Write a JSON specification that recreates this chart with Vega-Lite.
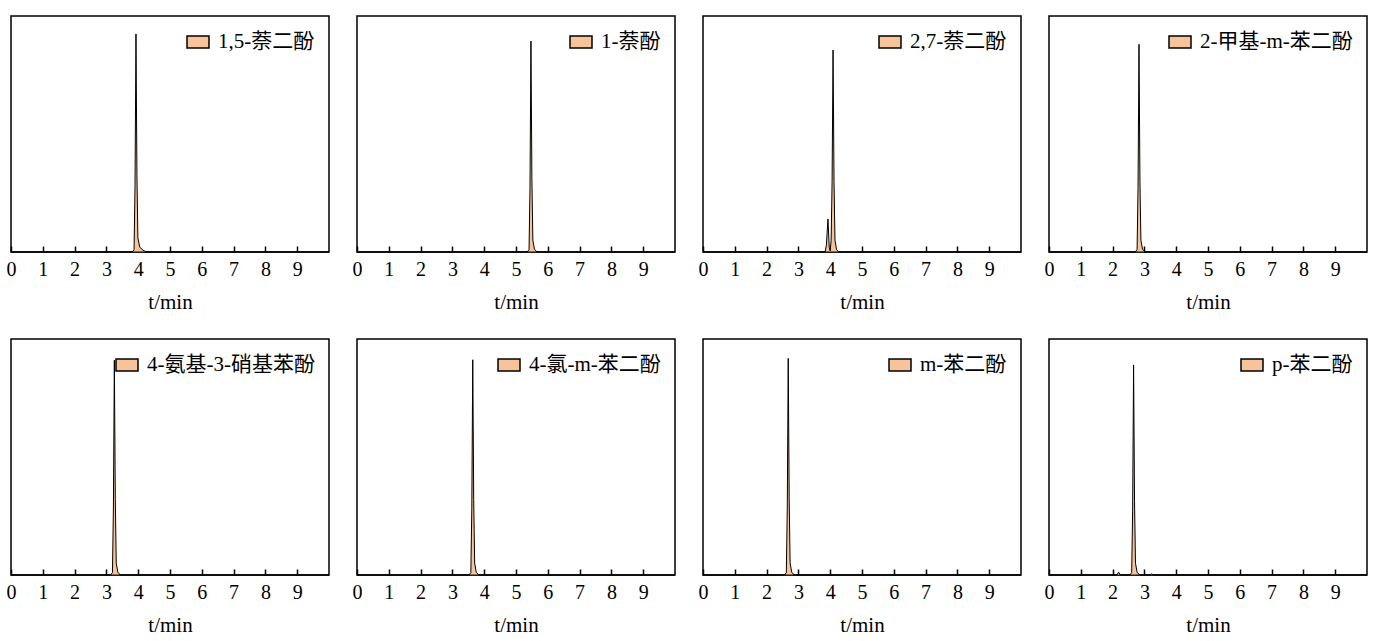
{
  "$schema": "https://vega.github.io/schema/vega-lite/v6.json",
  "background": "white",
  "padding": {"left": 5, "top": 15, "right": 5, "bottom": 5},
  "data": {"values": [
    {"name": "1,5-萘二酚", "t": 0, "v": 0},
    {"name": "1,5-萘二酚", "t": 3.81, "v": 0},
    {"name": "1,5-萘二酚", "t": 3.87, "v": 0.01},
    {"name": "1,5-萘二酚", "t": 3.9, "v": 0.28},
    {"name": "1,5-萘二酚", "t": 3.93, "v": 0.924},
    {"name": "1,5-萘二酚", "t": 3.96, "v": 0.33},
    {"name": "1,5-萘二酚", "t": 3.99, "v": 0.06},
    {"name": "1,5-萘二酚", "t": 4.05, "v": 0.02},
    {"name": "1,5-萘二酚", "t": 4.15, "v": 0.008},
    {"name": "1,5-萘二酚", "t": 4.25, "v": 0},
    {"name": "1,5-萘二酚", "t": 10, "v": 0},

    {"name": "1-萘酚", "t": 0, "v": 0},
    {"name": "1-萘酚", "t": 5.35, "v": 0},
    {"name": "1-萘酚", "t": 5.41, "v": 0.01},
    {"name": "1-萘酚", "t": 5.44, "v": 0.27},
    {"name": "1-萘酚", "t": 5.47, "v": 0.894},
    {"name": "1-萘酚", "t": 5.5, "v": 0.31},
    {"name": "1-萘酚", "t": 5.53, "v": 0.05},
    {"name": "1-萘酚", "t": 5.58, "v": 0.012},
    {"name": "1-萘酚", "t": 5.66, "v": 0},
    {"name": "1-萘酚", "t": 10, "v": 0},

    {"name": "2,7-萘二酚", "t": 0, "v": 0},
    {"name": "2,7-萘二酚", "t": 3.84, "v": 0},
    {"name": "2,7-萘二酚", "t": 3.88, "v": 0.03},
    {"name": "2,7-萘二酚", "t": 3.93, "v": 0.14},
    {"name": "2,7-萘二酚", "t": 3.97, "v": 0.02},
    {"name": "2,7-萘二酚", "t": 4.0, "v": 0.005},
    {"name": "2,7-萘二酚", "t": 4.03, "v": 0.05},
    {"name": "2,7-萘二酚", "t": 4.06, "v": 0.3},
    {"name": "2,7-萘二酚", "t": 4.09, "v": 0.856},
    {"name": "2,7-萘二酚", "t": 4.12, "v": 0.3},
    {"name": "2,7-萘二酚", "t": 4.15, "v": 0.05},
    {"name": "2,7-萘二酚", "t": 4.2, "v": 0.01},
    {"name": "2,7-萘二酚", "t": 4.28, "v": 0},
    {"name": "2,7-萘二酚", "t": 10, "v": 0},

    {"name": "2-甲基-m-苯二酚", "t": 0, "v": 0},
    {"name": "2-甲基-m-苯二酚", "t": 2.71, "v": 0},
    {"name": "2-甲基-m-苯二酚", "t": 2.77, "v": 0.01},
    {"name": "2-甲基-m-苯二酚", "t": 2.8, "v": 0.27},
    {"name": "2-甲基-m-苯二酚", "t": 2.83, "v": 0.88},
    {"name": "2-甲基-m-苯二酚", "t": 2.86, "v": 0.3},
    {"name": "2-甲基-m-苯二酚", "t": 2.89, "v": 0.05},
    {"name": "2-甲基-m-苯二酚", "t": 2.94, "v": 0.012},
    {"name": "2-甲基-m-苯二酚", "t": 3.02, "v": 0},
    {"name": "2-甲基-m-苯二酚", "t": 10, "v": 0},

    {"name": "4-氨基-3-硝基苯酚", "t": 0, "v": 0},
    {"name": "4-氨基-3-硝基苯酚", "t": 3.13, "v": 0},
    {"name": "4-氨基-3-硝基苯酚", "t": 3.19, "v": 0.01},
    {"name": "4-氨基-3-硝基苯酚", "t": 3.22, "v": 0.28},
    {"name": "4-氨基-3-硝基苯酚", "t": 3.25, "v": 0.91},
    {"name": "4-氨基-3-硝基苯酚", "t": 3.28, "v": 0.32},
    {"name": "4-氨基-3-硝基苯酚", "t": 3.31, "v": 0.05},
    {"name": "4-氨基-3-硝基苯酚", "t": 3.36, "v": 0.012},
    {"name": "4-氨基-3-硝基苯酚", "t": 3.44, "v": 0},
    {"name": "4-氨基-3-硝基苯酚", "t": 10, "v": 0},

    {"name": "4-氯-m-苯二酚", "t": 0, "v": 0},
    {"name": "4-氯-m-苯二酚", "t": 3.52, "v": 0},
    {"name": "4-氯-m-苯二酚", "t": 3.58, "v": 0.01},
    {"name": "4-氯-m-苯二酚", "t": 3.61, "v": 0.28},
    {"name": "4-氯-m-苯二酚", "t": 3.64, "v": 0.912},
    {"name": "4-氯-m-苯二酚", "t": 3.67, "v": 0.32},
    {"name": "4-氯-m-苯二酚", "t": 3.7, "v": 0.05},
    {"name": "4-氯-m-苯二酚", "t": 3.75, "v": 0.012},
    {"name": "4-氯-m-苯二酚", "t": 3.83, "v": 0},
    {"name": "4-氯-m-苯二酚", "t": 10, "v": 0},

    {"name": "m-苯二酚", "t": 0, "v": 0},
    {"name": "m-苯二酚", "t": 2.56, "v": 0},
    {"name": "m-苯二酚", "t": 2.62, "v": 0.01},
    {"name": "m-苯二酚", "t": 2.65, "v": 0.28},
    {"name": "m-苯二酚", "t": 2.68, "v": 0.918},
    {"name": "m-苯二酚", "t": 2.71, "v": 0.32},
    {"name": "m-苯二酚", "t": 2.74, "v": 0.05},
    {"name": "m-苯二酚", "t": 2.79, "v": 0.012},
    {"name": "m-苯二酚", "t": 2.87, "v": 0},
    {"name": "m-苯二酚", "t": 10, "v": 0},

    {"name": "p-苯二酚", "t": 0, "v": 0},
    {"name": "p-苯二酚", "t": 2.13, "v": 0},
    {"name": "p-苯二酚", "t": 2.19, "v": 0.012},
    {"name": "p-苯二酚", "t": 2.25, "v": 0},
    {"name": "p-苯二酚", "t": 2.54, "v": 0},
    {"name": "p-苯二酚", "t": 2.6, "v": 0.01},
    {"name": "p-苯二酚", "t": 2.63, "v": 0.27},
    {"name": "p-苯二酚", "t": 2.66, "v": 0.89},
    {"name": "p-苯二酚", "t": 2.69, "v": 0.31},
    {"name": "p-苯二酚", "t": 2.72, "v": 0.05},
    {"name": "p-苯二酚", "t": 2.77, "v": 0.012},
    {"name": "p-苯二酚", "t": 2.85, "v": 0},
    {"name": "p-苯二酚", "t": 3.18, "v": 0},
    {"name": "p-苯二酚", "t": 3.23, "v": 0.005},
    {"name": "p-苯二酚", "t": 3.28, "v": 0},
    {"name": "p-苯二酚", "t": 10, "v": 0}
  ]},
  "columns": 4,
  "spacing": {"column": 19, "row": 25},
  "resolve": {"scale": {"fill": "independent"}, "legend": {"fill": "independent"}},
  "concat": [
    {"width": 318, "height": 236, "transform": [{"filter": "datum.name === '1,5-萘二酚'"}],
     "mark": {"type": "area", "stroke": "black", "strokeWidth": 1, "interpolate": "linear"},
     "encoding": {
       "x": {"field": "t", "type": "quantitative", "scale": {"domain": [0, 10]}, "axis": {"values": [0,1,2,3,4,5,6,7,8,9], "title": "t/min", "grid": false, "domain": false, "offset": -6, "tickSize": 6, "tickWidth": 1.5, "tickColor": "black", "labelFlush": false, "labelFont": "Liberation Serif", "labelFontSize": 20, "labelColor": "black", "labelPadding": 7, "titleFont": "Liberation Serif", "titleFontSize": 21, "titleFontWeight": "normal", "titleColor": "black", "titlePadding": 12}},
       "y": {"field": "v", "type": "quantitative", "scale": {"domain": [0, 1]}, "axis": null},
       "fill": {"field": "name", "type": "nominal", "scale": {"range": ["#F7C39B"]}, "legend": {"title": null}}}},
    {"width": 318, "height": 236, "transform": [{"filter": "datum.name === '1-萘酚'"}],
     "mark": {"type": "area", "stroke": "black", "strokeWidth": 1, "interpolate": "linear"},
     "encoding": {
       "x": {"field": "t", "type": "quantitative", "scale": {"domain": [0, 10]}, "axis": {"values": [0,1,2,3,4,5,6,7,8,9], "title": "t/min", "grid": false, "domain": false, "offset": -6, "tickSize": 6, "tickWidth": 1.5, "tickColor": "black", "labelFlush": false, "labelFont": "Liberation Serif", "labelFontSize": 20, "labelColor": "black", "labelPadding": 7, "titleFont": "Liberation Serif", "titleFontSize": 21, "titleFontWeight": "normal", "titleColor": "black", "titlePadding": 12}},
       "y": {"field": "v", "type": "quantitative", "scale": {"domain": [0, 1]}, "axis": null},
       "fill": {"field": "name", "type": "nominal", "scale": {"range": ["#F7C39B"]}, "legend": {"title": null}}}},
    {"width": 318, "height": 236, "transform": [{"filter": "datum.name === '2,7-萘二酚'"}],
     "mark": {"type": "area", "stroke": "black", "strokeWidth": 1, "interpolate": "linear"},
     "encoding": {
       "x": {"field": "t", "type": "quantitative", "scale": {"domain": [0, 10]}, "axis": {"values": [0,1,2,3,4,5,6,7,8,9], "title": "t/min", "grid": false, "domain": false, "offset": -6, "tickSize": 6, "tickWidth": 1.5, "tickColor": "black", "labelFlush": false, "labelFont": "Liberation Serif", "labelFontSize": 20, "labelColor": "black", "labelPadding": 7, "titleFont": "Liberation Serif", "titleFontSize": 21, "titleFontWeight": "normal", "titleColor": "black", "titlePadding": 12}},
       "y": {"field": "v", "type": "quantitative", "scale": {"domain": [0, 1]}, "axis": null},
       "fill": {"field": "name", "type": "nominal", "scale": {"range": ["#F7C39B"]}, "legend": {"title": null}}}},
    {"width": 318, "height": 236, "transform": [{"filter": "datum.name === '2-甲基-m-苯二酚'"}],
     "mark": {"type": "area", "stroke": "black", "strokeWidth": 1, "interpolate": "linear"},
     "encoding": {
       "x": {"field": "t", "type": "quantitative", "scale": {"domain": [0, 10]}, "axis": {"values": [0,1,2,3,4,5,6,7,8,9], "title": "t/min", "grid": false, "domain": false, "offset": -6, "tickSize": 6, "tickWidth": 1.5, "tickColor": "black", "labelFlush": false, "labelFont": "Liberation Serif", "labelFontSize": 20, "labelColor": "black", "labelPadding": 7, "titleFont": "Liberation Serif", "titleFontSize": 21, "titleFontWeight": "normal", "titleColor": "black", "titlePadding": 12}},
       "y": {"field": "v", "type": "quantitative", "scale": {"domain": [0, 1]}, "axis": null},
       "fill": {"field": "name", "type": "nominal", "scale": {"range": ["#F7C39B"]}, "legend": {"title": null}}}},
    {"width": 318, "height": 236, "transform": [{"filter": "datum.name === '4-氨基-3-硝基苯酚'"}],
     "mark": {"type": "area", "stroke": "black", "strokeWidth": 1, "interpolate": "linear"},
     "encoding": {
       "x": {"field": "t", "type": "quantitative", "scale": {"domain": [0, 10]}, "axis": {"values": [0,1,2,3,4,5,6,7,8,9], "title": "t/min", "grid": false, "domain": false, "offset": -6, "tickSize": 6, "tickWidth": 1.5, "tickColor": "black", "labelFlush": false, "labelFont": "Liberation Serif", "labelFontSize": 20, "labelColor": "black", "labelPadding": 7, "titleFont": "Liberation Serif", "titleFontSize": 21, "titleFontWeight": "normal", "titleColor": "black", "titlePadding": 12}},
       "y": {"field": "v", "type": "quantitative", "scale": {"domain": [0, 1]}, "axis": null},
       "fill": {"field": "name", "type": "nominal", "scale": {"range": ["#F7C39B"]}, "legend": {"title": null}}}},
    {"width": 318, "height": 236, "transform": [{"filter": "datum.name === '4-氯-m-苯二酚'"}],
     "mark": {"type": "area", "stroke": "black", "strokeWidth": 1, "interpolate": "linear"},
     "encoding": {
       "x": {"field": "t", "type": "quantitative", "scale": {"domain": [0, 10]}, "axis": {"values": [0,1,2,3,4,5,6,7,8,9], "title": "t/min", "grid": false, "domain": false, "offset": -6, "tickSize": 6, "tickWidth": 1.5, "tickColor": "black", "labelFlush": false, "labelFont": "Liberation Serif", "labelFontSize": 20, "labelColor": "black", "labelPadding": 7, "titleFont": "Liberation Serif", "titleFontSize": 21, "titleFontWeight": "normal", "titleColor": "black", "titlePadding": 12}},
       "y": {"field": "v", "type": "quantitative", "scale": {"domain": [0, 1]}, "axis": null},
       "fill": {"field": "name", "type": "nominal", "scale": {"range": ["#F7C39B"]}, "legend": {"title": null}}}},
    {"width": 318, "height": 236, "transform": [{"filter": "datum.name === 'm-苯二酚'"}],
     "mark": {"type": "area", "stroke": "black", "strokeWidth": 1, "interpolate": "linear"},
     "encoding": {
       "x": {"field": "t", "type": "quantitative", "scale": {"domain": [0, 10]}, "axis": {"values": [0,1,2,3,4,5,6,7,8,9], "title": "t/min", "grid": false, "domain": false, "offset": -6, "tickSize": 6, "tickWidth": 1.5, "tickColor": "black", "labelFlush": false, "labelFont": "Liberation Serif", "labelFontSize": 20, "labelColor": "black", "labelPadding": 7, "titleFont": "Liberation Serif", "titleFontSize": 21, "titleFontWeight": "normal", "titleColor": "black", "titlePadding": 12}},
       "y": {"field": "v", "type": "quantitative", "scale": {"domain": [0, 1]}, "axis": null},
       "fill": {"field": "name", "type": "nominal", "scale": {"range": ["#F7C39B"]}, "legend": {"title": null}}}},
    {"width": 318, "height": 236, "transform": [{"filter": "datum.name === 'p-苯二酚'"}],
     "mark": {"type": "area", "stroke": "black", "strokeWidth": 1, "interpolate": "linear"},
     "encoding": {
       "x": {"field": "t", "type": "quantitative", "scale": {"domain": [0, 10]}, "axis": {"values": [0,1,2,3,4,5,6,7,8,9], "title": "t/min", "grid": false, "domain": false, "offset": -6, "tickSize": 6, "tickWidth": 1.5, "tickColor": "black", "labelFlush": false, "labelFont": "Liberation Serif", "labelFontSize": 20, "labelColor": "black", "labelPadding": 7, "titleFont": "Liberation Serif", "titleFontSize": 21, "titleFontWeight": "normal", "titleColor": "black", "titlePadding": 12}},
       "y": {"field": "v", "type": "quantitative", "scale": {"domain": [0, 1]}, "axis": null},
       "fill": {"field": "name", "type": "nominal", "scale": {"range": ["#F7C39B"]}, "legend": {"title": null}}}}
  ],
  "config": {
    "font": "Liberation Serif",
    "view": {"stroke": "black", "strokeWidth": 1.5},
    "legend": {
      "orient": "top-right",
      "offset": 14,
      "padding": 0,
      "labelFont": "Liberation Serif, Noto Sans CJK SC",
      "labelFontSize": 21,
      "labelColor": "black",
      "labelLimit": 400,
      "labelOffset": 8,
      "symbolType": "M-1,-0.55H1V0.55H-1Z",
      "symbolSize": 484,
      "symbolStrokeColor": "black",
      "symbolStrokeWidth": 1.5,
      "symbolOpacity": 1
    }
  }
}
